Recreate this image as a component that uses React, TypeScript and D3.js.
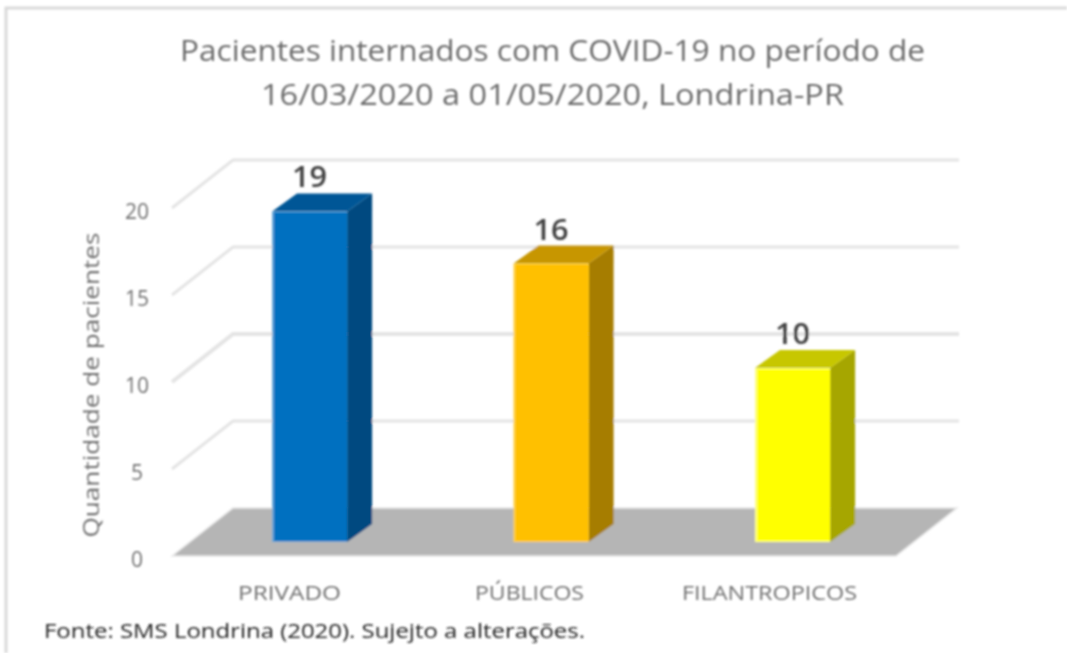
import React from "react";
import * as d3 from "d3";

const categories = ["PRIVADO", "PÚBLICOS", "FILANTROPICOS"];
const values = [19, 16, 10];
const frontColors = ["#0070C0", "#FFC000", "#FFFF00"];
const sideColors = ["#004A80", "#A67D00", "#A6A600"];
const topColors = ["#005796", "#C79600", "#C7C700"];
const edgeColors = ["#5FA5D8", "#FFD040", "#FFFF80"];
const labelWidths = [103, 109, 175];
const yTicks = [0, 5, 10, 15, 20];
const titleLines = [
  "Pacientes internados com COVID-19 no período de",
  "16/03/2020 a 01/05/2020, Londrina-PR",
];
const titleWidths = [745, 583];
const yAxisTitle = "Quantidade de pacientes";
const source = "Fonte: SMS Londrina (2020). Sujejto a alterações.";

const W = 1067;
const H = 653;
const FONT = "'Open Sans', 'Noto Sans', sans-serif";

// oblique projection: depth shift between the front plane and the back wall
const wallDx = 61;
const wallDy = -48;
const barDx = 25;
const barDy = -18;

const yFront = d3.scaleLinear().domain([0, 20]).range([556, 208]);
const yBar = d3.scaleLinear().domain([0, 20]).range([542, 194]);
const xBand = d3.scaleBand().domain(categories).range([175.4, 926.7]).paddingInner(0.689).paddingOuter(0.4);
const xLabel = d3.scalePoint().domain(categories).range([289.5, 769.5]);

const poly = (pts: [number, number][]) => d3.line()(pts) + "Z";

export default function App() {
  const frontL = 172;
  const frontR = 896;
  const y0 = yFront(0);
  return (
    <svg
      width={W}
      height={H}
      viewBox={`0 0 ${W} ${H}`}
      style={{ position: "absolute", left: 0, top: 0, background: "#fff" }}
    >
      <defs>
        <filter id="soft" x="-2%" y="-2%" width="104%" height="104%">
          <feGaussianBlur stdDeviation="0.85" />
        </filter>
      </defs>
      <g filter="url(#soft)">
        <path d="M6,653V8H1067" fill="none" stroke="#d9d9d9" strokeWidth={3} />

        {titleLines.map((t, i) => (
          <text
            key={t}
            x={552.5}
            y={61 + i * 44}
            textAnchor="middle"
            fontFamily={FONT}
            fontSize={28.5}
            textLength={titleWidths[i]}
            lengthAdjust="spacingAndGlyphs"
            fill="#6b6b6b"
          >
            {t}
          </text>
        ))}

        {yTicks.map((t) => {
          const y = yFront(t);
          const isFloor = t === 0;
          return (
            <g key={t}>
              {!isFloor && (
                <path
                  d={`M${frontL},${y}L${frontL + wallDx},${y + wallDy}H${frontR + wallDx + 2}`}
                  fill="none"
                  stroke="#e4e4e4"
                  strokeWidth={t === 10 ? 4 : 3}
                />
              )}
              <text
                x={137}
                y={y + 9}
                dy={2}
                textAnchor="middle"
                fontFamily={FONT}
                fontSize={21}
                fill="#6f6f6f"
              >
                {t}
              </text>
            </g>
          );
        })}

        <path
          d={poly([
            [frontL, y0],
            [frontL + wallDx, y0 + wallDy],
            [frontR + wallDx, y0 + wallDy],
            [frontR, y0],
          ])}
          fill="#b5b5b5"
          stroke="#e8e8e8"
          strokeWidth={1.5}
        />

        <text
          transform={`translate(99,385) rotate(-90)`}
          textAnchor="middle"
          fontFamily={FONT}
          fontSize={21.5}
          textLength={305}
          lengthAdjust="spacingAndGlyphs"
          fill="#6f6f6f"
        >
          {yAxisTitle}
        </text>

        {categories.map((c, i) => {
          const x0 = xBand(c)!;
          const x1 = x0 + xBand.bandwidth();
          const yb = yBar(0);
          const yt = yBar(values[i]);
          return (
            <g key={c}>
              <path
                d={poly([
                  [x1, yb],
                  [x1 + barDx, yb + barDy],
                  [x1 + barDx, yt + barDy],
                  [x1, yt],
                ])}
                fill={sideColors[i]}
              />
              <path
                d={poly([
                  [x0, yt],
                  [x0 + barDx, yt + barDy],
                  [x1 + barDx, yt + barDy],
                  [x1, yt],
                ])}
                fill={topColors[i]}
              />
              <rect
                x={x0}
                y={yt}
                width={x1 - x0}
                height={yb - yt}
                fill={edgeColors[i]}
              />
              <rect
                x={x0 + 2}
                y={yt + 1}
                width={x1 - x0 - 2}
                height={yb - yt - 2}
                fill={frontColors[i]}
              />
              <text
                x={(x0 + x1) / 2}
                y={yt - 24}
                textAnchor="middle"
                fontFamily={FONT}
                fontSize={29}
                fontWeight={600}
                textLength={35}
                lengthAdjust="spacingAndGlyphs"
                fill="#404040"
              >
                {values[i]}
              </text>
              <text
                x={xLabel(c)}
                y={600}
                textAnchor="middle"
                fontFamily={FONT}
                fontSize={19.5}
                textLength={labelWidths[i]}
                lengthAdjust="spacingAndGlyphs"
                fill="#6f6f6f"
              >
                {c}
              </text>
            </g>
          );
        })}

        <text
          x={44}
          y={638}
          fontFamily={FONT}
          fontSize={20}
          textLength={541}
          lengthAdjust="spacingAndGlyphs"
          fill="#222"
        >
          {source}
        </text>
      </g>
    </svg>
  );
}
